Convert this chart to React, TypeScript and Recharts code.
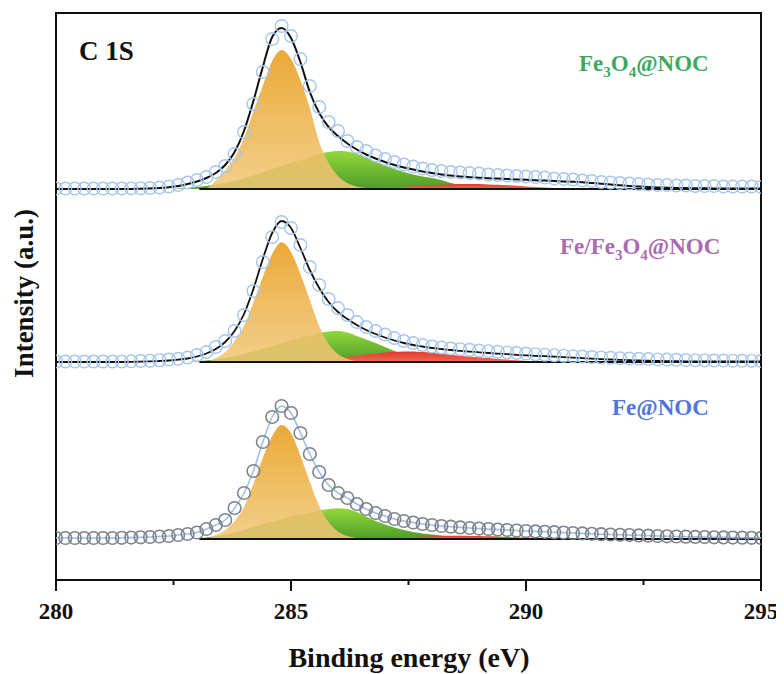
import React from 'react';
import { ComposedChart, Line, Area, XAxis, YAxis, ReferenceArea, ReferenceLine } from 'recharts';

// Binding energy grid (eV)
const energies = [
  280.0, 280.2, 280.4, 280.6, 280.8, 281.0, 281.2, 281.4, 281.6, 281.8,
  282.0, 282.2, 282.4, 282.6, 282.8, 283.0, 283.2, 283.4, 283.6, 283.8,
  284.0, 284.2, 284.4, 284.6, 284.8, 285.0, 285.2, 285.4, 285.6, 285.8,
  286.0, 286.2, 286.4, 286.6, 286.8, 287.0, 287.2, 287.4, 287.6, 287.8,
  288.0, 288.2, 288.4, 288.6, 288.8, 289.0, 289.2, 289.4, 289.6, 289.8,
  290.0, 290.2, 290.4, 290.6, 290.8, 291.0, 291.2, 291.4, 291.6, 291.8,
  292.0, 292.2, 292.4, 292.6, 292.8, 293.0, 293.2, 293.4, 293.6, 293.8,
  294.0, 294.2, 294.4, 294.6, 294.8, 295.0,
];

// Fe3O4@NOC (top)
const topData = [
  0.5, 0.5, 0.5, 0.5, 0.5, 0.5, 0.5, 0.5, 0.6, 0.8,
  1, 1.5, 2.5, 4, 6.5, 9, 12, 17, 23, 35,
  57, 85, 117, 150, 163, 153, 130, 103, 82, 67,
  58, 48, 42, 38, 33.5, 30, 27, 24.5, 22.5, 20.5,
  19, 18, 17, 16.5, 16, 15.5, 14.5, 14, 13.5, 13,
  12.5, 12, 11.5, 10.5, 10, 9.5, 8.5, 8, 7, 6.5,
  6, 5.5, 5, 4.5, 4, 4, 3.5, 3.5, 3, 3,
  3, 2.5, 2.5, 2.5, 2.5, 2,
];
const topFit = [
  0, 0, 0, 0, 0, 0, 0, 0, 0.1, 0.3,
  0.6, 1, 1.8, 3, 5, 7.5, 11, 16, 24, 37,
  58, 88, 122, 152, 161, 151, 127, 97, 76, 62,
  53, 45.5, 39.5, 34.5, 30.5, 27, 24, 21.5, 19.5, 17.5,
  16, 14.5, 13.5, 12.5, 11.8, 11.2, 10.8, 10.4, 10, 9.6,
  9.2, 8.8, 8.4, 8, 7.6, 7.2, 6.7, 6, 5.3, 4.5,
  3.8, 3.1, 2.5, 2, 1.6, 1.3, 1.1, 0.9, 0.8, 0.7,
  0.6, 0.5, 0.5, 0.4, 0.4, 0.4,
];
const topOrange = [
  0, 0, 0, 0, 0, 0, 0, 0, 0, 0,
  0, 0, 0, 0, 0, 0.3, 1, 8.5, 19, 31.5,
  51, 77.5, 103, 128, 139, 130, 109, 81, 47, 26,
  13, 6, 2.5, 1, 0.3, 0, 0, 0, 0, 0,
  0, 0, 0, 0, 0, 0, 0, 0, 0, 0,
  0, 0, 0, 0, 0, 0, 0, 0, 0, 0,
  0, 0, 0, 0, 0, 0, 0, 0, 0, 0,
  0, 0, 0, 0, 0, 0,
];
const topGreen = [
  0, 0, 0, 0, 0, 0, 0, 0, 0, 0,
  0, 0, 0, 0.5, 1, 2, 3, 4.5, 6, 8,
  10.5, 13.5, 17, 20, 23, 26, 29, 32, 35, 37,
  38, 37.5, 35, 31.5, 27, 23.5, 20, 17, 14.5, 12.5,
  11, 9, 6, 4, 2.5, 1.5, 0.8, 0.3, 0, 0,
  0, 0, 0, 0, 0, 0, 0, 0, 0, 0,
  0, 0, 0, 0, 0, 0, 0, 0, 0, 0,
  0, 0, 0, 0, 0, 0,
];
const topRed = [
  0, 0, 0, 0, 0, 0, 0, 0, 0, 0,
  0, 0, 0, 0, 0, 0, 0, 0, 0, 0,
  0, 0, 0, 0, 0, 0, 0, 0, 0, 0,
  0, 0, 0, 0.3, 0.6, 1, 1.5, 2, 2.7, 3.3,
  3.9, 4.4, 4.8, 5, 5, 4.9, 4.6, 4.2, 3.7, 3.2,
  2.6, 2, 1.5, 1.1, 0.7, 0.4, 0.2, 0, 0, 0,
  0, 0, 0, 0, 0, 0, 0, 0, 0, 0,
  0, 0, 0, 0, 0, 0,
];

// Fe/Fe3O4@NOC (middle)
const midData = [
  0.5, 0.5, 0.5, 0.5, 0.5, 0.5, 0.5, 0.5, 0.7, 1,
  1.3, 1.8, 2.5, 3.2, 4.5, 7, 10, 15, 21, 31,
  47, 71, 100, 125, 140, 134, 117, 95, 77, 63,
  54, 47, 40, 35, 31, 27.5, 24, 21, 19, 17,
  15.5, 14.5, 13.5, 12.8, 12.2, 11.5, 10.8, 10.2, 9.6, 9,
  8.4, 7.8, 7.3, 6.8, 6.3, 5.8, 5.4, 5, 4.6, 4.2,
  3.8, 3.5, 3.2, 2.9, 2.6, 2.4, 2.2, 2, 1.8, 1.6,
  1.5, 1.4, 1.3, 1.2, 1.1, 1,
];
const midFit = [
  0, 0, 0, 0, 0, 0, 0, 0, 0.1, 0.3,
  0.6, 1, 1.5, 2.3, 3.5, 5.5, 8.5, 13, 20, 31,
  48, 73, 103, 129, 141, 134, 114, 92, 74, 60,
  50, 43, 37, 32, 28, 24.5, 21.5, 19, 17, 15.5,
  14, 13, 12, 11.2, 10.4, 9.7, 9, 8.4, 7.8, 7.2,
  6.7, 6.2, 5.8, 5.3, 4.8, 4.3, 3.8, 3.3, 2.9, 2.5,
  2.1, 1.8, 1.5, 1.3, 1.1, 0.9, 0.8, 0.7, 0.6, 0.6,
  0.5, 0.5, 0.5, 0.5, 0.5, 0.5,
];
const midOrange = [
  0, 0, 0, 0, 0, 0, 0, 0, 0, 0,
  0, 0, 0, 0, 0, 0, 0.5, 4, 10, 21,
  36, 59.5, 85, 108, 119.7, 110, 88, 62, 36, 18,
  8, 3, 1, 0.3, 0, 0, 0, 0, 0, 0,
  0, 0, 0, 0, 0, 0, 0, 0, 0, 0,
  0, 0, 0, 0, 0, 0, 0, 0, 0, 0,
  0, 0, 0, 0, 0, 0, 0, 0, 0, 0,
  0, 0, 0, 0, 0, 0,
];
const midGreen = [
  0, 0, 0, 0, 0, 0, 0, 0, 0, 0,
  0, 0, 0, 0, 0, 0.5, 1.5, 2.5, 4, 6,
  8, 10.5, 13, 16, 19, 21.5, 24, 26.5, 29, 30.5,
  31, 29.5, 26, 22.5, 19, 15, 11, 7.5, 5, 3,
  1.5, 0.5, 0, 0, 0, 0, 0, 0, 0, 0,
  0, 0, 0, 0, 0, 0, 0, 0, 0, 0,
  0, 0, 0, 0, 0, 0, 0, 0, 0, 0,
  0, 0, 0, 0, 0, 0,
];
const midRed = [
  0, 0, 0, 0, 0, 0, 0, 0, 0, 0,
  0, 0, 0, 0, 0, 0, 0, 0, 0, 0,
  0, 0, 0, 0, 0.2, 0.5, 1, 1.5, 2.2, 3,
  4, 5, 6.2, 7.5, 8.5, 9.5, 10.2, 10.6, 10.6, 10,
  9.2, 8.2, 7.2, 6.3, 5.5, 4.7, 3.9, 3.1, 2.4, 1.7,
  1.1, 0.6, 0.2, 0, 0, 0, 0, 0, 0, 0,
  0, 0, 0, 0, 0, 0, 0, 0, 0, 0,
  0, 0, 0, 0, 0, 0,
];

// Fe@NOC (bottom)
const botData = [
  1, 1, 1, 1, 1, 1, 1, 1.2, 1.4, 1.7,
  2, 2.5, 3, 4, 5, 6.5, 10, 14, 19, 31,
  46, 68, 97, 122, 133, 126, 106, 85, 67, 54,
  46, 41, 35, 30, 26, 23, 20, 18, 16.5, 15,
  14, 13, 12.3, 11.6, 11, 10.4, 9.9, 9.4, 9, 8.5,
  8, 7.6, 7.2, 6.8, 6.4, 6, 5.6, 5.2, 4.8, 4.5,
  4.2, 3.9, 3.6, 3.3, 3, 2.7, 2.5, 2.3, 2.1, 1.9,
  1.7, 1.6, 1.4, 1.3, 1.2, 1.1,
];
const botOrange = [
  0, 0, 0, 0, 0, 0, 0, 0, 0, 0,
  0, 0, 0, 0, 0, 0, 0.5, 4, 9, 18,
  32, 55, 81, 103, 114, 105.7, 83.5, 57, 33, 17,
  7.5, 3, 1, 0.3, 0, 0, 0, 0, 0, 0,
  0, 0, 0, 0, 0, 0, 0, 0, 0, 0,
  0, 0, 0, 0, 0, 0, 0, 0, 0, 0,
  0, 0, 0, 0, 0, 0, 0, 0, 0, 0,
  0, 0, 0, 0, 0, 0,
];
const botGreen = [
  0, 0, 0, 0, 0, 0, 0, 0, 0, 0,
  0, 0, 0, 0, 0, 0.5, 1.5, 3, 4.5, 6.5,
  9, 12, 15, 17.5, 20, 22.5, 24.5, 26.5, 28.5, 30,
  30.7, 30, 27, 22.5, 18, 14.5, 11.5, 9, 7, 5.5,
  4.5, 3.5, 2.5, 1.5, 1, 0.5, 0, 0, 0, 0,
  0, 0, 0, 0, 0, 0, 0, 0, 0, 0,
  0, 0, 0, 0, 0, 0, 0, 0, 0, 0,
  0, 0, 0, 0, 0, 0,
];
const botRed = [
  0, 0, 0, 0, 0, 0, 0, 0, 0, 0,
  0, 0, 0, 0, 0, 0, 0, 0, 0, 0,
  0, 0, 0, 0, 0, 0, 0, 0, 0, 0,
  0, 0, 0, 0, 0.2, 0.5, 1, 1.5, 2, 2.5,
  2.8, 3, 3.2, 3.2, 3.1, 3, 2.7, 2.5, 2.1, 1.8,
  1.4, 1, 0.7, 0.4, 0.2, 0, 0, 0, 0, 0,
  0, 0, 0, 0, 0, 0, 0, 0, 0, 0,
  0, 0, 0, 0, 0, 0,
];

const xTicks = [280, 282.5, 285, 287.5, 290, 292.5, 295];
const majorTicks = [280, 285, 290, 295];

// vertical offsets of the stacked spectra
const OFF_TOP = 391;
const OFF_MID = 218;
const OFF_BOT = 41;
const BASE_START = 283.05;

const rows = energies.map((e, i) => ({
  e,
  tD: topData[i] + OFF_TOP,
  tF: topFit[i] + OFF_TOP,
  tO: topOrange[i] + OFF_TOP,
  tG: topGreen[i] + OFF_TOP,
  tR: topRed[i] + OFF_TOP,
  mD: midData[i] + OFF_MID,
  mF: midFit[i] + OFF_MID,
  mO: midOrange[i] + OFF_MID,
  mG: midGreen[i] + OFF_MID,
  mR: midRed[i] + OFF_MID,
  bD: botData[i] + OFF_BOT,
  bO: botOrange[i] + OFF_BOT,
  bG: botGreen[i] + OFF_BOT,
  bR: botRed[i] + OFF_BOT,
}));

const FONT = '"Liberation Serif", "Times New Roman", serif';

const Tick = (props: any) => {
  const { x, y, payload } = props;
  const major = majorTicks.includes(payload.value);
  return (
    <g>
      <line x1={x} y1={y} x2={x} y2={y + (major ? 11 : 5)} stroke="#111" strokeWidth={2} />
      {major && (
        <text x={x} y={y + 39} textAnchor="middle" fontFamily={FONT} fontWeight="bold" fontSize={23} fill="#111">
          {payload.value}
        </text>
      )}
    </g>
  );
};

const circleBlue = { r: 6.3, fill: 'none', stroke: '#A6C6EC', strokeWidth: 1.4 };
const circleGray = { r: 6.3, fill: 'none', stroke: '#7C848C', strokeWidth: 1.6 };

const areaCommon = {
  type: 'monotone' as const,
  stroke: 'none',
  fillOpacity: 1,
  isAnimationActive: false,
  activeDot: false as any,
};

export default function App() {
  return (
    <ComposedChart
      width={776}
      height={666}
      data={rows}
      margin={{ top: 5, right: 23, left: 48, bottom: 54 }}
    >
      <defs>
        <linearGradient id="gOrange" x1="0" y1="0" x2="0" y2="1">
          <stop offset="0%" stopColor="#EBA630" stopOpacity={0.97} />
          <stop offset="100%" stopColor="#F0C777" stopOpacity={0.86} />
        </linearGradient>
        <linearGradient id="gGreen" x1="0" y1="0" x2="0" y2="1">
          <stop offset="0%" stopColor="#93D83A" />
          <stop offset="100%" stopColor="#4E9C2A" />
        </linearGradient>
        <linearGradient id="gRed" x1="0" y1="0" x2="0" y2="1">
          <stop offset="0%" stopColor="#E3392E" />
          <stop offset="100%" stopColor="#EE6A50" />
        </linearGradient>
      </defs>
      <XAxis
        dataKey="e"
        type="number"
        domain={[280, 295]}
        ticks={xTicks}
        interval={0}
        axisLine={false}
        tickLine={false}
        tickSize={0}
        tickMargin={0}
        height={40}
        tick={<Tick />}
        allowDataOverflow
      />
      <YAxis type="number" domain={[0, 567]} hide allowDataOverflow />

      {/* top panel */}
      <Area dataKey="tG" baseValue={OFF_TOP} fill="url(#gGreen)" {...areaCommon} />
      <Area dataKey="tR" baseValue={OFF_TOP} fill="url(#gRed)" {...areaCommon} />
      <Area dataKey="tO" baseValue={OFF_TOP} fill="url(#gOrange)" {...areaCommon} />
      <ReferenceLine segment={[{ x: BASE_START, y: OFF_TOP }, { x: 295, y: OFF_TOP }]} stroke="#111" strokeWidth={2} />
      <Line dataKey="tD" type="monotone" stroke="none" dot={circleBlue} activeDot={false} isAnimationActive={false} />
      <Line dataKey="tF" type="monotone" stroke="#111" strokeWidth={2} dot={false} activeDot={false} isAnimationActive={false} />

      {/* middle panel */}
      <Area dataKey="mG" baseValue={OFF_MID} fill="url(#gGreen)" {...areaCommon} />
      <Area dataKey="mR" baseValue={OFF_MID} fill="url(#gRed)" {...areaCommon} />
      <Area dataKey="mO" baseValue={OFF_MID} fill="url(#gOrange)" {...areaCommon} />
      <ReferenceLine segment={[{ x: BASE_START, y: OFF_MID }, { x: 295, y: OFF_MID }]} stroke="#111" strokeWidth={2} />
      <Line dataKey="mD" type="monotone" stroke="none" dot={circleBlue} activeDot={false} isAnimationActive={false} />
      <Line dataKey="mF" type="monotone" stroke="#111" strokeWidth={1.8} dot={false} activeDot={false} isAnimationActive={false} />

      {/* bottom panel */}
      <Area dataKey="bG" baseValue={OFF_BOT} fill="url(#gGreen)" {...areaCommon} />
      <Area dataKey="bR" baseValue={OFF_BOT} fill="url(#gRed)" {...areaCommon} />
      <Area dataKey="bO" baseValue={OFF_BOT} fill="url(#gOrange)" {...areaCommon} />
      <ReferenceLine segment={[{ x: BASE_START, y: OFF_BOT }, { x: 295, y: OFF_BOT }]} stroke="#111" strokeWidth={2} />
      <Line dataKey="bD" type="monotone" stroke="#9EC0E8" strokeWidth={1.6} dot={circleGray} activeDot={false} isAnimationActive={false} />

      <ReferenceArea x1={280} x2={295} y1={0} y2={567} fill="none" fillOpacity={0} stroke="#111" strokeWidth={2} />

      <text x={71} y={52} fontFamily={FONT} fontWeight="bold" fontSize={27} fill="#111">C 1S</text>
      <text x={571} y={63} fontFamily={FONT} fontWeight="bold" fontSize={23} fill="#3DA95E">
        Fe<tspan fontSize={15} dy={6}>3</tspan><tspan dy={-6}>O</tspan><tspan fontSize={15} dy={6}>4</tspan><tspan dy={-6}>@NOC</tspan>
      </text>
      <text x={552} y={246} fontFamily={FONT} fontWeight="bold" fontSize={23} fill="#AA6BB0">
        Fe/Fe<tspan fontSize={15} dy={6}>3</tspan><tspan dy={-6}>O</tspan><tspan fontSize={15} dy={6}>4</tspan><tspan dy={-6}>@NOC</tspan>
      </text>
      <text x={604} y={407} fontFamily={FONT} fontWeight="bold" fontSize={23} fill="#5274DE">Fe@NOC</text>

      <text x={401} y={659} textAnchor="middle" fontFamily={FONT} fontWeight="bold" fontSize={28} fill="#111">
        Binding energy (eV)
      </text>
      <text x={25} y={285.5} transform="rotate(-90, 25, 285.5)" textAnchor="middle" fontFamily={FONT} fontWeight="bold" fontSize={27} fill="#111">
        Intensity (a.u.)
      </text>
    </ComposedChart>
  );
}
